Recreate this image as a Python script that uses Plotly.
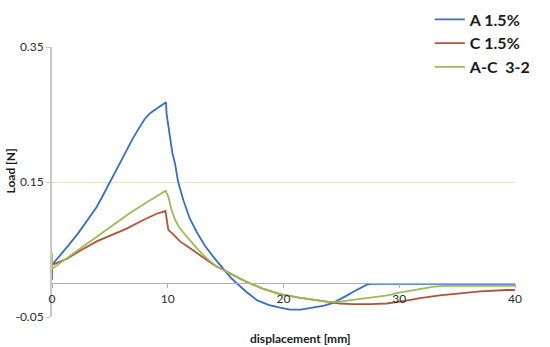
import plotly.graph_objects as go

# ---- data ----
a_x = [0, 0.8, 1.56, 2.3, 3.1, 3.86, 4.4, 5.0, 6.0, 7.0, 7.6, 8.0, 8.47, 9.0, 9.4, 9.85,
       9.9, 10.05, 10.2, 10.4, 10.63, 10.9, 11.35, 11.9, 12.5, 13.2, 13.94, 14.6, 15.4,
       15.96, 16.8, 17.7, 18.7, 19.7, 20.56, 21.5, 22.6, 23.5, 24.3, 24.9, 25.5, 26.0,
       26.6, 27.2, 27.6, 32.0, 36.0, 40.0]
a_y = [0.027, 0.043, 0.059, 0.075, 0.094, 0.113, 0.130, 0.150, 0.182, 0.215, 0.232,
       0.243, 0.252, 0.258, 0.263, 0.268, 0.251, 0.232, 0.212, 0.193, 0.177, 0.150,
       0.123, 0.096, 0.076, 0.056, 0.039, 0.025, 0.009, 0.0, -0.013, -0.025, -0.032,
       -0.036, -0.039, -0.039, -0.036, -0.033, -0.029, -0.024, -0.018, -0.013, -0.007,
       -0.002, -0.001, -0.001, -0.001, -0.001]

c_x = [0, 0, 1.27, 2.5, 3.86, 5.1, 6.45, 7.8, 9.04, 9.8, 9.9, 10.05, 10.5, 11.06,
       12.0, 12.8, 13.5, 14.2, 15.5, 16.8, 18.2, 19.7, 21.2, 22.6, 24.0, 24.9, 26.0,
       27.5, 28.9, 30.5, 31.8, 33.5, 35.0, 37.0, 39.3, 40.0]
c_y = [0.005, 0.027, 0.036, 0.049, 0.062, 0.071, 0.081, 0.093, 0.103, 0.107, 0.096,
       0.079, 0.072, 0.062, 0.051, 0.041, 0.033, 0.025, 0.013, 0.002, -0.008, -0.016,
       -0.021, -0.025, -0.028, -0.030, -0.031, -0.031, -0.030, -0.026, -0.022, -0.018,
       -0.015, -0.012, -0.010, -0.010]

ac_x = [0, 0, 0.06, 1.84, 3.86, 5.3, 6.74, 8.3, 9.82, 10.05, 10.34, 10.63, 11.06,
        11.8, 12.5, 13.3, 14.2, 15.5, 16.8, 18.2, 19.7, 21.2, 22.6, 24.0, 25.0, 26.0,
        27.0, 28.0, 29.0, 30.0, 31.0, 32.0, 33.0, 34.0, 37.0, 40.0]
ac_y = [0.045, 0.022, 0.022, 0.044, 0.069, 0.087, 0.104, 0.121, 0.137, 0.128, 0.108,
        0.094, 0.081, 0.066, 0.052, 0.038, 0.025, 0.013, 0.002, -0.008, -0.016, -0.021,
        -0.025, -0.028, -0.027, -0.025, -0.023, -0.021, -0.018, -0.014, -0.011, -0.008,
        -0.005, -0.004, -0.004, -0.004]

series_names = ["A 1.5%", "C 1.5%", "A-C\u00a0 3-2"]
series_colors = ["#3a6cc6", "#b0533c", "#9bbb59"]

y_ticks = [-0.05, 0.15, 0.35]
y_tick_labels = ["-0.05", "0.15", "0.35"]
x_ticks = [0, 10, 20, 30, 40]

fig = go.Figure()
for xs, ys, name, col in zip([a_x, c_x, ac_x], [a_y, c_y, ac_y], series_names, series_colors):
    fig.add_trace(go.Scatter(x=xs, y=ys, mode="lines", name=name,
                             line=dict(color=col, width=1.8)))

fig.update_layout(
    width=550, height=347,
    margin=dict(l=52, r=35, t=47, b=30, autoexpand=False),
    paper_bgcolor="white", plot_bgcolor="white",
    font=dict(family="Lato, 'Open Sans', sans-serif", size=12, color="#2b2b2b"),
    showlegend=True,
    legend=dict(x=0.816, y=1.165, xanchor="left", yanchor="top",
                bgcolor="white",
                font=dict(size=16, color="#1a1a1a", family="Lato", weight="bold"),
                itemwidth=30, tracegroupgap=0),
    xaxis=dict(range=[0, 40], tickvals=x_ticks, anchor="free", position=0.125,
               showline=True, linecolor="#b0b0b0", linewidth=1,
               ticks="outside", ticklen=4, tickcolor="#b0b0b0",
               showgrid=False, zeroline=False),
    yaxis=dict(range=[-0.05, 0.35], tickvals=y_ticks, ticktext=y_tick_labels,
               showline=True, linecolor="#c8c8c8", linewidth=2,
               ticks="outside", ticklen=4, tickcolor="#c8c8c8",
               showgrid=True, gridcolor="#e6e3cc", gridwidth=1, zeroline=False),
    annotations=[
        dict(text="<b>Load [N]</b>", xref="paper", yref="paper", x=-0.09, y=0.54,
             xanchor="center", yanchor="middle",
             textangle=-90, showarrow=False, font=dict(size=12, color="#1a1a1a")),
        dict(text="<b>displacement [mm]</b>", xref="paper", yref="paper", x=0.536, y=-0.078,
             xanchor="center", yanchor="middle",
             showarrow=False, font=dict(size=12, color="#1a1a1a")),
    ],
)

fig.write_html("out.html", config={"displayModeBar": False},
               post_script="document.body.style.margin='0';")
